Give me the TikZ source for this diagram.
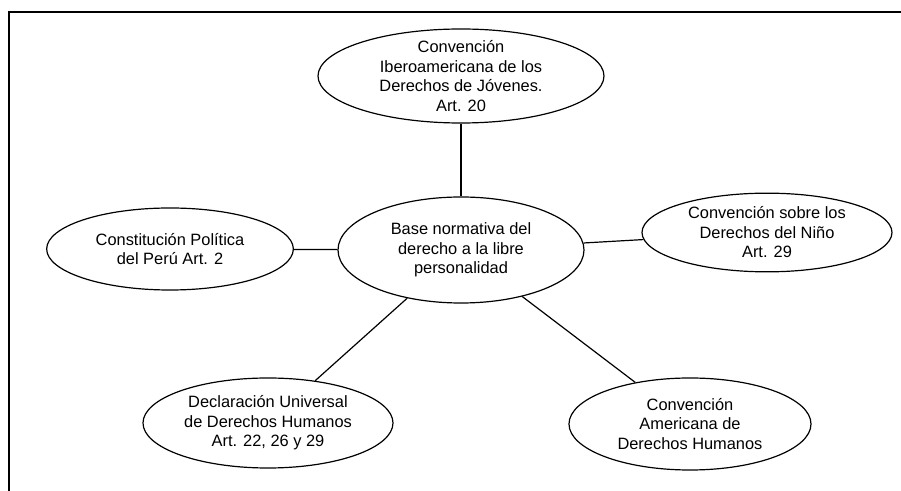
\documentclass[tikz,border=0pt]{standalone}
\usepackage{fontspec}
\setmainfont{Liberation Sans}
\usetikzlibrary{shapes.geometric}
\begin{document}
\begin{tikzpicture}[x=0.75pt,y=-0.75pt,
  oval/.style={draw=black,line width=0.9pt,ellipse,inner sep=0pt,fill=white},
  txt/.style={align=center,inner sep=0pt,font=\fontsize{12.3}{14.6}\selectfont},
  conn/.style={draw=black,line width=0.9pt}]
\useasboundingbox (0,0) rectangle (901,491);
\draw[line width=1.6pt] (9,495) -- (9,12) -- (905,12);
\node[oval,minimum width=214.5pt,minimum height=70.5pt] (top) at (461,76) {};
\node[oval,minimum width=184.5pt,minimum height=79.5pt] (ctr) at (461,250) {};
\node[oval,minimum width=185pt,minimum height=61.5pt] (lft) at (170,249) {};
\node[oval,minimum width=187.5pt,minimum height=59pt] (rgt) at (767,232.5) {};
\node[oval,minimum width=187.5pt,minimum height=67.5pt] (bl) at (268,423) {};
\node[oval,minimum width=181.5pt,minimum height=69pt] (br) at (690,424) {};
\node[txt] (ttop) at (top) {Convención\\Iberoamericana de los\\Derechos de Jóvenes.\\Art. 20};
\node[txt] (tctr) at (ctr) {Base normativa del\\derecho a la libre\\personalidad};
\node[txt] (tlft) at (lft) {Constitución Política\\del Perú Art. 2};
\node[txt] (trgt) at (rgt) {Convención sobre los\\Derechos del Niño\\Art. 29};
\node[txt] (tbl) at (bl) {Declaración Universal\\de Derechos Humanos\\Art. 22, 26 y 29};
\node[txt] (tbr) at (br) {Convención\\Americana de\\Derechos Humanos};
\draw[conn] (top) -- (ctr);
\draw[conn] (lft) -- (ctr);
\draw[conn] (ctr) -- (rgt);
\draw[conn] (ctr) -- (bl);
\draw[conn] (ctr) -- (br);
\end{tikzpicture}
\end{document}
